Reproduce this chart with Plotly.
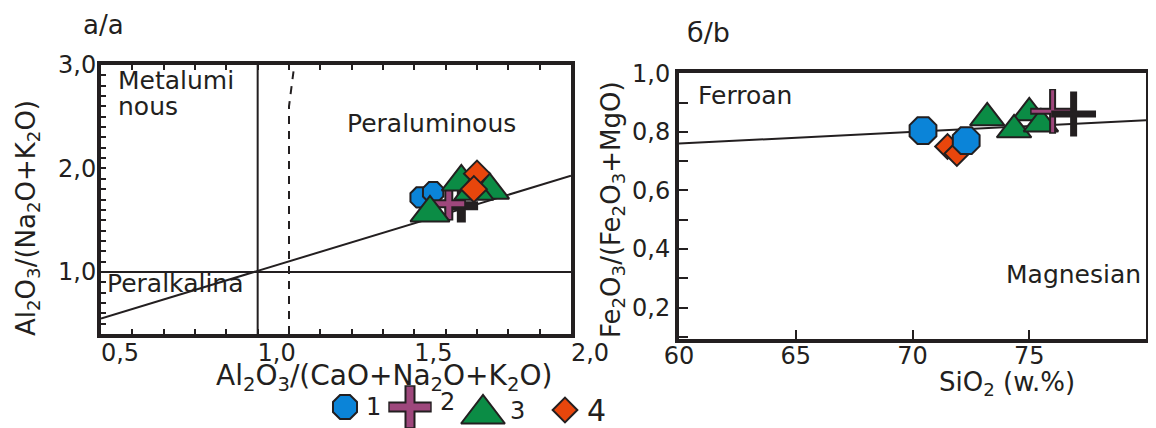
import numpy as np
import plotly.graph_objects as go

W, H = 1156, 428
OFF = 8                      # page body margin in the browser
FW, FH = W - OFF, H - OFF    # figure size that fits the window
FONT = "DejaVu Sans"
INK = "#231f20"

# ---------------- data ----------------
# Panel a: A/CNK vs A/NK
A_S1_X = [1.52, 1.56]
A_S1_Y = [1.72, 1.77]
A_S2_X = [1.65, 1.61]
A_S2_Y = [1.64, 1.66]
A_S3_X = [1.55, 1.65, 1.74, 1.69]
A_S3_Y = [1.57, 1.87, 1.79, 1.78]
A_S4_X = [1.70, 1.69]
A_S4_Y = [1.95, 1.80]

# boundary lines, panel a
A_HLINE_X = [0.5, 2.0]
A_HLINE_Y = [1.0, 1.0]
A_VLINE_X = [1.0, 1.0]
A_VLINE_Y = [0.4, 3.0]
A_DASH_X = [1.1, 1.1, 1.117]
A_DASH_Y = [0.4, 2.6, 3.0]
A_DIAG_X = [0.5, 2.0]
A_DIAG_Y = [0.55, 1.93]

# Panel b: SiO2 vs Fe*
B_S1_X = [70.45, 72.3]
B_S1_Y = [0.804, 0.770]
B_S2_X = [76.0, 76.9]
B_S2_Y = [0.870, 0.861]
B_S3_X = [73.2, 75.0, 74.35, 75.5]
B_S3_Y = [0.848, 0.865, 0.807, 0.827]
B_S4_X = [71.5, 71.9]
B_S4_Y = [0.750, 0.726]

B_LINE_X = [60, 80]
B_LINE_Y = [0.76, 0.84]

# tick labels
A_XTICK_VALS = [0.5, 1.0, 1.5, 2.0]
A_XTICK_TEXT = ["0,5", "1,0", "1,5", "2,0"]
A_YTICK_VALS = [1.0, 2.0, 3.0]
A_YTICK_TEXT = ["1,0", "2,0", "3,0"]
B_XTICK_VALS = [60, 65, 70, 75, 80]
B_XTICK_TEXT = ["60", "65", "70", "75", "80"]
B_YTICK_VALS = [0.2, 0.4, 0.6, 0.8, 1.0]
B_YTICK_TEXT = ["0,2", "0,4", "0,6", "0,8", "1,0"]

LEGEND_LABELS = ["1", "2", "3", "4"]

# ---------------- styles ----------------
C_BLUE = "#0b84d8"
C_PURPLE = "#9e477c"
C_GREEN = "#0b8c45"
C_RED = "#e8460c"
C_BLACK = INK


def px(x):
    return (x - OFF) / FW


def py(y):
    return 1 - (y - OFF) / FH


fig = go.Figure()


def mk(symbol, color, size, lw=2):
    return dict(symbol=symbol, color=color, size=size, opacity=1,
                line=dict(color=INK, width=lw))


def line_tr(x, y, xa, ya, dash="solid"):
    fig.add_trace(go.Scatter(x=x, y=y, mode="lines", xaxis=xa, yaxis=ya,
                             line=dict(color=INK, width=2, dash=dash),
                             hoverinfo="skip", showlegend=False))


def cross_tr(x, y, xa, ya, colors, size, w):
    # outlined thin cross: dark wide stroke, then coloured narrower stroke
    for i in range(len(x)):
        fig.add_trace(go.Scatter(x=[x[i]], y=[y[i]], mode="markers", xaxis=xa, yaxis=ya,
                                 marker=dict(symbol="cross-thin", size=size, opacity=1,
                                             line=dict(color=INK, width=w + 4)),
                                 hoverinfo="skip", showlegend=False))
        fig.add_trace(go.Scatter(x=[x[i]], y=[y[i]], mode="markers", xaxis=xa, yaxis=ya,
                                 marker=dict(symbol="cross-thin", size=size - 2, opacity=1,
                                             line=dict(color=colors[i], width=w)),
                                 hoverinfo="skip", showlegend=False))


# panel a lines
line_tr(A_HLINE_X, A_HLINE_Y, "x", "y")
line_tr(A_VLINE_X, A_VLINE_Y, "x", "y")
line_tr(A_DASH_X, A_DASH_Y, "x", "y", dash="8px,7px")
line_tr(A_DIAG_X, A_DIAG_Y, "x", "y")

# panel a points
fig.add_trace(go.Scatter(x=A_S1_X, y=A_S1_Y, mode="markers", xaxis="x", yaxis="y",
                         marker=mk("octagon", C_BLUE, 22), showlegend=False))
cross_tr(A_S2_X, A_S2_Y, "x", "y", [C_BLACK, C_PURPLE], 24, 5)
fig.add_trace(go.Scatter(x=A_S3_X, y=A_S3_Y, mode="markers", xaxis="x", yaxis="y",
                         marker=mk("triangle-up", C_GREEN, 34), showlegend=False))
fig.add_trace(go.Scatter(x=A_S4_X, y=A_S4_Y, mode="markers", xaxis="x", yaxis="y",
                         marker=mk("diamond", C_RED, 20), showlegend=False))

# panel b line
line_tr(B_LINE_X, B_LINE_Y, "x2", "y2")

# panel b points
fig.add_trace(go.Scatter(x=B_S4_X, y=B_S4_Y, mode="markers", xaxis="x2", yaxis="y2",
                         marker=mk("diamond", C_RED, 19), showlegend=False))
fig.add_trace(go.Scatter(x=B_S1_X, y=B_S1_Y, mode="markers", xaxis="x2", yaxis="y2",
                         marker=mk("octagon", C_BLUE, 29), showlegend=False))
fig.add_trace(go.Scatter(x=B_S3_X, y=B_S3_Y, mode="markers", xaxis="x2", yaxis="y2",
                         marker=mk("triangle-up", C_GREEN, 30), showlegend=False))
cross_tr(B_S2_X, B_S2_Y, "x2", "y2", [C_PURPLE, C_BLACK], 32, 3)

# legend row (overlay axis in reference-pixel units)
LEG_POS_X = [345, 410, 483, 565]
LEG_POS_Y = [407, 407, 414, 410]
LEG_SYMBOLS = ["octagon", "triangle-up", "diamond"]
LEG_COLORS = [C_BLUE, C_GREEN, C_RED]
LEG_SIZES = [26, 38, 19]
LEG_IDX = [0, 2, 3]
fig.add_trace(go.Scatter(x=[LEG_POS_X[i] for i in LEG_IDX], y=[LEG_POS_Y[i] for i in LEG_IDX],
                         mode="markers", xaxis="x3", yaxis="y3",
                         marker=dict(symbol=LEG_SYMBOLS, color=LEG_COLORS, size=LEG_SIZES,
                                     opacity=1, line=dict(color=INK, width=2)),
                         cliponaxis=False, hoverinfo="skip", showlegend=False))
cross_tr([LEG_POS_X[1]], [LEG_POS_Y[1]], "x3", "y3", [C_PURPLE], 31, 7)

# ---------------- axes ----------------
A_DOM_X = [px(101), px(571)]
A_DOM_Y = [py(334), py(65)]
B_DOM_X = [px(679), px(1146)]
B_DOM_Y = [py(339), py(73)]

a_xt = np.round(np.arange(0.5, 2.0001, 0.1), 2)
a_xtxt = [dict(zip(A_XTICK_VALS, A_XTICK_TEXT)).get(round(v, 2), "") for v in a_xt]
a_yt = np.round(np.arange(0.5, 3.0001, 0.1), 2)
a_ytxt = [dict(zip(A_YTICK_VALS, A_YTICK_TEXT)).get(round(v, 2), "") for v in a_yt]
b_yt = np.round(np.arange(0.1, 1.0001, 0.1), 2)
b_ytxt = [dict(zip(B_YTICK_VALS, B_YTICK_TEXT)).get(round(v, 2), "") for v in b_yt]

axis_common = dict(showgrid=False, zeroline=False, showline=True, linecolor=INK,
                   linewidth=4, ticks="inside", tickcolor=INK, tickwidth=2,
                   automargin=False,
                   tickfont=dict(family=FONT, size=24, color=INK), tickmode="array")

fig.update_layout(
    template="none",
    width=FW, height=FH,
    margin=dict(l=0, r=0, t=0, b=0, pad=0, autoexpand=False),
    paper_bgcolor="white", plot_bgcolor="rgba(0,0,0,0)",
    showlegend=False,
    xaxis=dict(axis_common, domain=A_DOM_X, range=[0.5, 2.0], anchor="y",
               tickvals=a_xt, ticktext=a_xtxt, ticklen=5, mirror="ticks",
               ticklabelshift=19, ticklabelstandoff=-6),
    yaxis=dict(axis_common, domain=A_DOM_Y, range=[0.4, 3.0], anchor="x",
               tickvals=a_yt, ticktext=a_ytxt, ticklen=5, mirror=True,
               ticklabelstandoff=-4),
    xaxis2=dict(axis_common, domain=B_DOM_X, range=[60, 80], anchor="y2",
                tickvals=B_XTICK_VALS, ticktext=B_XTICK_TEXT, ticklen=9, mirror=True,
                ticklabelstandoff=-8),
    yaxis2=dict(axis_common, domain=B_DOM_Y, range=[0.0925, 1.001], anchor="x2",
                tickvals=b_yt, ticktext=b_ytxt, ticklen=9, mirror=True,
                ticklabelstandoff=0),
    xaxis3=dict(domain=[0, 1], range=[OFF, OFF + FW], visible=False, anchor="y3",
                automargin=False),
    yaxis3=dict(domain=[0, 1], range=[OFF + FH, OFF], visible=False, anchor="x3",
                automargin=False),
)


def txt(s, x, y, size, xanchor="center", angle=0, yanchor="middle"):
    fig.add_annotation(text=s, x=px(x), y=py(y), xref="paper", yref="paper",
                       xanchor=xanchor, yanchor=yanchor, showarrow=False,
                       textangle=angle, font=dict(family=FONT, size=size, color=INK))


txt("a/a", 103, 8, 26, yanchor="top")
txt("б/b", 708, 32, 27)
txt("Metalumi", 116, 80, 25, xanchor="left")
txt("nous", 116, 106, 25, xanchor="left")
txt("Peraluminous", 345, 123, 25, xanchor="left")
txt("Peralkalina", 105, 283, 25, xanchor="left")
txt("Ferroan", 696, 95, 25, xanchor="left")
txt("Magnesian", 1143, 274, 25, xanchor="right")
txt("Al<sub>2</sub>O<sub>3</sub>/(Na<sub>2</sub>O+K<sub>2</sub>O)", 27, 218, 26, angle=-90)
txt("Al<sub>2</sub>O<sub>3</sub>/(CaO+Na<sub>2</sub>O+K<sub>2</sub>O)", 384, 377, 28)
txt("Fe<sub>2</sub>O<sub>3</sub>/(Fe<sub>2</sub>O<sub>3</sub>+MgO)", 612, 210, 26, angle=-90)
txt("SiO<sub>2</sub> (w.%)", 1007, 383, 26)

LEG_NUM_X = [373, 447, 517, 596]
LEG_NUM_Y = [407, 402, 411, 410]
LEG_NUM_SIZE = [24, 24, 24, 30]
for lab, lx, ly, ls in zip(LEGEND_LABELS, LEG_NUM_X, LEG_NUM_Y, LEG_NUM_SIZE):
    txt(lab, lx, ly, ls)

fig.write_html("out.html")
